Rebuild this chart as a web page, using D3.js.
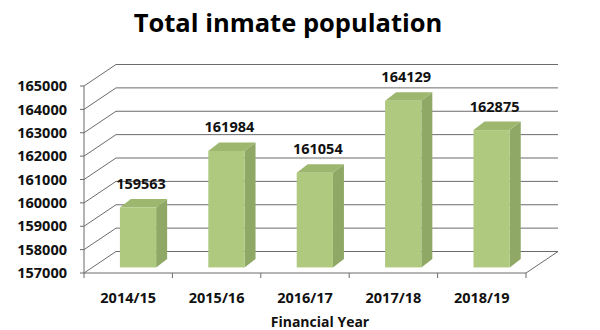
<!DOCTYPE html>
<html><head><meta charset="utf-8">
<script src="https://cdn.jsdelivr.net/npm/d3@7"></script>
<style>body{margin:0;background:#fff}svg{display:block}</style>
</head><body><svg id="c" width="600" height="330"></svg>
<script>
const categories = ["2014/15", "2015/16", "2016/17", "2017/18", "2018/19"];
const values = [159563, 161984, 161054, 164129, 162875];
const yTicks = [157000, 158000, 159000, 160000, 161000, 162000, 163000, 164000, 165000];
const chartTitle = "Total inmate population";
const xTitle = "Financial Year";

const svg = d3.select("#c");
const L = 84, R = 526, B = 273, T = 86;
const DX = 32, DY = -21.5;       // depth of the 3D box
const d1 = 0.26;                 // depth of bar front face
const SDX = 11, SDY = -8.5;      // bar depth
const font = "'Open Sans', 'Liberation Sans', sans-serif";
const lineCol = "#6b6b6b";

const y = d3.scaleLinear().domain([157000, 165000]).range([B, T]);
const x = d3.scaleBand().domain(categories).range([L, R]);

// title
svg.append("text").attr("x", 288).attr("y", 32).attr("text-anchor", "middle")
  .attr("font-family", font).attr("font-weight", 700).attr("font-size", 25.5)
  .attr("fill", "#000").text(chartTitle);

const g = svg.append("g");
// back wall gridlines
g.selectAll(".grid").data(yTicks).join("line")
  .attr("x1", L + DX).attr("x2", R + DX)
  .attr("y1", d => y(d) + DY).attr("y2", d => y(d) + DY)
  .attr("stroke", lineCol).attr("stroke-width", 1);
// left wall diagonals
g.selectAll(".diag").data(yTicks).join("line")
  .attr("x1", L).attr("x2", L + DX)
  .attr("y1", d => y(d)).attr("y2", d => y(d) + DY)
  .attr("stroke", lineCol).attr("stroke-width", 1);
// floor right edge
g.append("line").attr("x1", R).attr("y1", B).attr("x2", R + DX).attr("y2", B + DY)
  .attr("stroke", lineCol);
// front axes
g.append("line").attr("x1", L).attr("y1", T).attr("x2", L).attr("y2", B).attr("stroke", lineCol);
g.append("line").attr("x1", L).attr("y1", B).attr("x2", R).attr("y2", B).attr("stroke", lineCol);
// y ticks
g.selectAll(".yt").data(yTicks).join("line")
  .attr("x1", L - 4).attr("x2", L).attr("y1", d => y(d)).attr("y2", d => y(d))
  .attr("stroke", lineCol);
g.selectAll(".yl").data(yTicks).join("text")
  .attr("x", 67).attr("y", d => y(d)).attr("dy", "0.36em").attr("text-anchor", "end")
  .attr("font-family", font).attr("font-weight", 700).attr("font-size", 14.5)
  .attr("fill", "#111").text(d => d);
// x ticks
const xt = [L].concat(categories.map(c => x(c) + x.bandwidth()));
g.selectAll(".xt").data(xt).join("line")
  .attr("x1", d => d).attr("x2", d => d).attr("y1", B).attr("y2", B + 5)
  .attr("stroke", lineCol);
g.selectAll(".xl").data(categories).join("text")
  .attr("x", d => x(d) + x.bandwidth() / 2).attr("y", 303).attr("text-anchor", "middle")
  .attr("font-family", font).attr("font-weight", 700).attr("font-size", 14.5)
  .attr("fill", "#111").text(d => d);
svg.append("text").attr("x", 320).attr("y", 327).attr("text-anchor", "middle")
  .attr("font-family", font).attr("font-weight", 700).attr("font-size", 14)
  .attr("fill", "#111").text(xTitle);

// bars
const bw = x.bandwidth() * 0.41;
const bars = values.map((v, i) => {
  const cx = x(categories[i]) + x.bandwidth() / 2 + d1 * DX + 1.5;
  const x0 = cx - bw / 2, x1 = cx + bw / 2;
  const top = y(v) + d1 * DY, bot = y(157000) + d1 * DY;
  return {v, cx, x0, x1, top, bot};
});
const bg = svg.append("g");
bg.selectAll(".side").data(bars).join("polygon")
  .attr("points", b => [[b.x1, b.top], [b.x1 + SDX, b.top + SDY], [b.x1 + SDX, b.bot + SDY], [b.x1, b.bot]].join(" "))
  .attr("fill", "#8fa866");
bg.selectAll(".topf").data(bars).join("polygon")
  .attr("points", b => [[b.x0, b.top], [b.x1, b.top], [b.x1 + SDX, b.top + SDY], [b.x0 + SDX, b.top + SDY]].join(" "))
  .attr("fill", "#9db76f");
bg.selectAll(".front").data(bars).join("rect")
  .attr("x", b => b.x0).attr("y", b => b.top).attr("width", bw).attr("height", b => b.bot - b.top)
  .attr("fill", "#afc97f");
bg.selectAll(".vl").data(bars).join("text")
  .attr("x", b => b.cx + 3).attr("y", b => b.top + SDY - 10).attr("text-anchor", "middle")
  .attr("font-family", font).attr("font-weight", 700).attr("font-size", 14.5)
  .attr("fill", "#111").text(b => b.v);
</script></body></html>
